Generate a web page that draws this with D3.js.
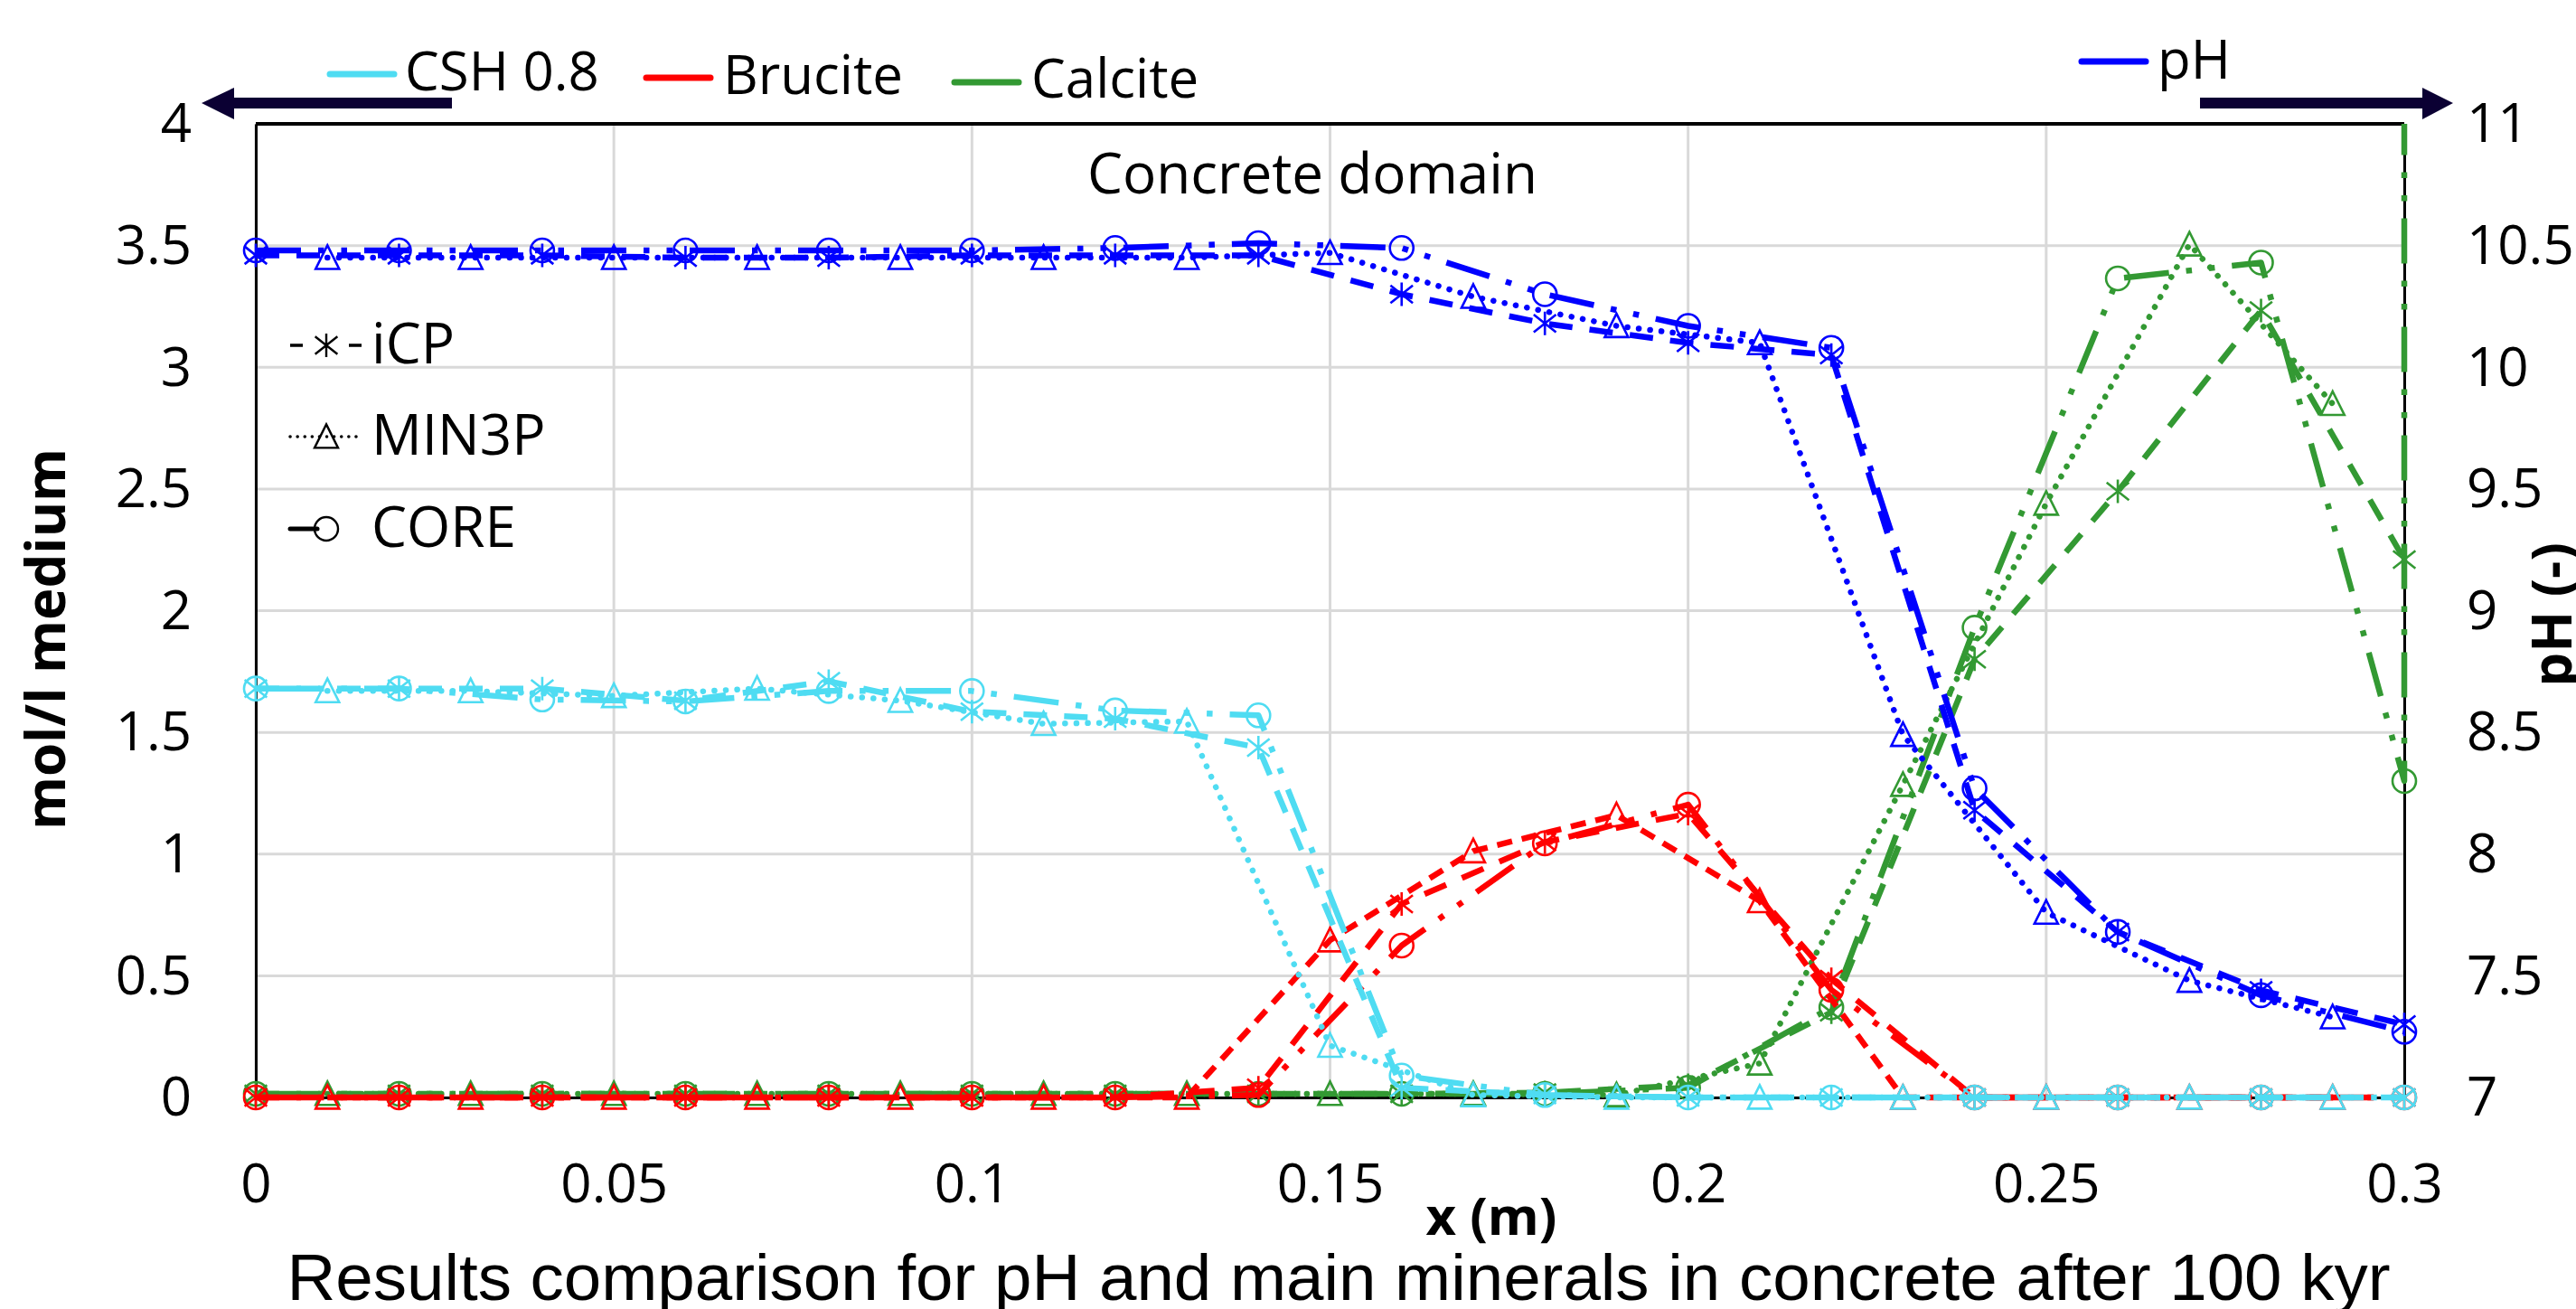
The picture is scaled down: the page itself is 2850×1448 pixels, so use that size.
<!DOCTYPE html>
<html><head><meta charset="utf-8">
<script src="https://cdn.jsdelivr.net/npm/d3@7"></script>
<style>
html,body{margin:0;padding:0;background:#fff;}
svg{display:block;}
text{fill:#000;}
</style>
</head><body>
<script>
// ---------------- DATA ----------------
const xEven = [0,0.02,0.04,0.06,0.08,0.10,0.12,0.14,0.16,0.18,0.20,0.22,0.24,0.26,0.28,0.30];
const xOdd  = [0.01,0.03,0.05,0.07,0.09,0.11,0.13,0.15,0.17,0.19,0.21,0.23,0.25,0.27,0.29];
const xCoreCalcite = [0,0.02,0.04,0.06,0.08,0.10,0.12,0.14,0.16,0.18,0.20,0.22,0.24,0.26,0.28,0.30,0.30];

// pH (right axis)
const phICP   = [10.46,10.46,10.46,10.45,10.45,10.46,10.46,10.46,10.30,10.18,10.10,10.05,8.18,7.68,7.44,7.30];
const phMIN3P = [10.45,10.45,10.45,10.45,10.45,10.45,10.45,10.47,10.29,10.17,10.10,8.49,7.76,7.48,7.33];
const phCORE  = [10.48,10.48,10.48,10.48,10.48,10.48,10.49,10.51,10.49,10.30,10.17,10.08,8.27,7.68,7.42,7.27];

// CSH 0.8 (left axis, mol/l medium)
const cshICP   = [1.68,1.68,1.68,1.63,1.71,1.585,1.556,1.437,0.04,0.01,0,0,0,0,0,0];
const cshMIN3P = [1.67,1.67,1.65,1.68,1.63,1.535,1.545,0.213,0.01,0,0,0,0,0,0];
const cshCORE  = [1.68,1.68,1.635,1.627,1.67,1.67,1.59,1.57,0.09,0.01,0,0,0,0,0,0];

// Brucite
const bruICP   = [0,0,0,0,0,0,0,0.04,0.795,1.049,1.166,0.486,0,0,0,0];
const bruMIN3P = [0,0,0,0,0,0,0,0.646,1.012,1.16,0.807,0,0,0,0];
const bruCORE  = [0,0,0,0,0,0,0,0.01,0.624,1.044,1.203,0.442,0,0,0,0];

// Calcite
const calICP   = [0.015,0.015,0.015,0.015,0.015,0.015,0.015,0.015,0.015,0.02,0.05,0.35,1.80,2.49,3.233,2.21];
const calMIN3P = [0.015,0.015,0.015,0.015,0.015,0.015,0.015,0.015,0.015,0.01,0.14,1.285,2.44,3.505,2.85];
const calCORE  = [0.015,0.015,0.015,0.015,0.015,0.015,0.015,0.015,0.015,0.015,0.04,0.37,1.93,3.365,3.43,1.30,12];

// Axis ticks / labels
const xTicks = [0,0.05,0.1,0.15,0.2,0.25,0.3];
const xTickLabels = ["0","0.05","0.1","0.15","0.2","0.25","0.3"];
const yLeftTicks = [0,0.5,1,1.5,2,2.5,3,3.5,4];
const yLeftLabels = ["0","0.5","1","1.5","2","2.5","3","3.5","4"];
const yRightTicks = [7,7.5,8,8.5,9,9.5,10,10.5,11];
const yRightLabels = ["7","7.5","8","8.5","9","9.5","10","10.5","11"];

const mineralNames = ["CSH 0.8","Brucite","Calcite","pH"];
const methodNames = ["iCP","MIN3P","CORE"];
const annotationText = "Concrete domain";
const xTitle = "x (m)";
const yLeftTitle = "mol/l medium";
const yRightTitle = "pH (-)";
const captionText = "Results comparison for pH and main minerals in concrete after 100 kyr";

// ---------------- STYLE / LAYOUT ----------------
const W = 2850, H = 1448;
const P = {left:283, right:2660, top:137, bottom:1214};
const COL = {csh:"#4FDCF2", bru:"#FF0000", cal:"#339933", ph:"#0000FF", arrow:"#0B0033", grid:"#D9D9D9"};
const LW = 6.5;
const FONT = "'Open Sans', sans-serif";
const methodStyle = {
  iCP:   {dash:"26,19", cap:"butt", marker:"star"},
  MIN3P: {dash:"0.1,12.5", cap:"round", marker:"triangle"},
  CORE:  {dash:"50,19,6.5,19,6.5,19", cap:"butt", marker:"circle"}
};

const svg = d3.select("body").append("svg").attr("width",W).attr("height",H)
  .style("font-family",FONT);

const x = d3.scaleLinear().domain([0,0.3]).range([P.left,P.right]);
const yL = d3.scaleLinear().domain([0,4]).range([P.bottom,P.top]);
const yR = d3.scaleLinear().domain([7,11]).range([P.bottom,P.top]);

svg.append("defs").append("clipPath").attr("id","plotclip")
  .append("rect").attr("x",P.left-30).attr("y",P.top).attr("width",P.right-P.left+60).attr("height",P.bottom-P.top+40);

// gridlines
const grid = svg.append("g");
grid.selectAll(".gx").data(xTicks).join("line")
  .attr("x1",d=>x(d)).attr("x2",d=>x(d)).attr("y1",P.top).attr("y2",P.bottom)
  .attr("stroke",COL.grid).attr("stroke-width",3);
grid.selectAll(".gy").data(yLeftTicks).join("line")
  .attr("x1",P.left).attr("x2",P.right).attr("y1",d=>yL(d)).attr("y2",d=>yL(d))
  .attr("stroke",COL.grid).attr("stroke-width",3);

// axes
const fs = 60;
function styleAxisText(sel){
  sel.selectAll("text").attr("font-size",fs).attr("font-family",null).style("font-family",FONT).attr("fill","#000");
}
const gx = svg.append("g").attr("transform",`translate(0,${P.bottom})`)
  .call(d3.axisBottom(x).tickValues(xTicks).tickFormat((d,i)=>xTickLabels[i]).tickSize(0));
gx.attr("font-family",null).attr("font-size",null);
gx.select(".domain").attr("stroke","#000").attr("stroke-width",3);
gx.selectAll("text").attr("y",116).attr("dy",null);
styleAxisText(gx);

const gl = svg.append("g").attr("transform",`translate(${P.left},0)`)
  .call(d3.axisLeft(yL).tickValues(yLeftTicks).tickFormat((d,i)=>yLeftLabels[i]).tickSize(0));
gl.attr("font-family",null).attr("font-size",null);
gl.select(".domain").attr("stroke","#000").attr("stroke-width",3);
gl.selectAll("text").attr("x",-71).attr("dy","0.33em");
styleAxisText(gl);

const gr = svg.append("g").attr("transform",`translate(${P.right},0)`)
  .call(d3.axisRight(yR).tickValues(yRightTicks).tickFormat((d,i)=>yRightLabels[i]).tickSize(0));
gr.attr("font-family",null).attr("font-size",null);
gr.select(".domain").attr("stroke","#000").attr("stroke-width",3);
gr.selectAll("text").attr("x",69).attr("dy","0.33em");
styleAxisText(gr);

// top border
svg.append("line").attr("x1",P.left).attr("x2",P.right).attr("y1",P.top).attr("y2",P.top)
  .attr("stroke","#000").attr("stroke-width",4);

// marker paths
function markerPath(type, r){
  if(type==="circle"){
    return `M${-r},0A${r},${r} 0 1,0 ${r},0A${r},${r} 0 1,0 ${-r},0Z`;
  } else if(type==="triangle"){
    return `M0,${-r*1.05}L${r},${r*0.95}L${-r},${r*0.95}Z`;
  } else {
    const a=r*0.95, b=r*0.75;
    return `M0,${-r}L0,${r}M${-a},${-b}L${a},${b}M${-a},${b}L${a},${-b}`;
  }
}

const plotG = svg.append("g").attr("clip-path","url(#plotclip)");

function drawSeries(xs, ys, yScale, color, method, dashOverride){
  const st = methodStyle[method];
  const pts = xs.map((d,i)=>[d, ys[i]]);
  const line = d3.line().x(d=>x(d[0])).y(d=>yScale(d[1]));
  const g = plotG.append("g");
  g.append("path").attr("d",line(pts)).attr("fill","none").attr("stroke",color)
    .attr("stroke-width",LW).attr("stroke-dasharray",dashOverride ? dashOverride.dash : st.dash)
    .attr("stroke-linecap",dashOverride ? dashOverride.cap : st.cap)
    .attr("stroke-linejoin","round");
  g.selectAll(".m").data(pts.filter(d=>yScale.domain()[0]<=d[1] && d[1]<=yScale.domain()[1])).join("path")
    .attr("transform",d=>`translate(${x(d[0])},${yScale(d[1])})`)
    .attr("d",markerPath(st.marker,13))
    .attr("fill","none").attr("stroke",color).attr("stroke-width",2.6);
}

// order: calcite, brucite, CSH, pH
drawSeries(xEven, calICP, yL, COL.cal, "iCP");
drawSeries(xOdd, calMIN3P, yL, COL.cal, "MIN3P");
drawSeries(xCoreCalcite, calCORE, yL, COL.cal, "CORE");
drawSeries(xEven, bruICP, yL, COL.bru, "iCP");
drawSeries(xOdd, bruMIN3P, yL, COL.bru, "MIN3P", {dash:"17,11", cap:"butt"});
drawSeries(xEven, bruCORE, yL, COL.bru, "CORE");
drawSeries(xEven, cshICP, yL, COL.csh, "iCP");
drawSeries(xOdd, cshMIN3P, yL, COL.csh, "MIN3P");
drawSeries(xEven, cshCORE, yL, COL.csh, "CORE");
drawSeries(xEven, phICP, yR, COL.ph, "iCP");
drawSeries(xOdd, phMIN3P, yR, COL.ph, "MIN3P");
drawSeries(xEven, phCORE, yR, COL.ph, "CORE");

// annotation text
svg.append("text").attr("x",1452).attr("y",214).attr("text-anchor","middle")
  .attr("font-size",62).text(annotationText);

// method legend (black)
const methodLegendY = [382,483,585];
const mlg = svg.append("g");
methodNames.forEach((m,i)=>{
  const st = methodStyle[m];
  const y0 = methodLegendY[i];
  const sampleX = m==="MIN3P" ? [321,398] : (m==="CORE" ? [321,392] : [321,400]);
  let dash = st.dash;
  if(m==="iCP") dash = "14,25,0,26,14";
  if(m==="MIN3P") dash = "0.1,8";
  if(m==="CORE") dash = "30,52,0.1,40";
  mlg.append("line").attr("x1",sampleX[0]).attr("x2",sampleX[1]).attr("y1",y0).attr("y2",y0)
    .attr("stroke","#000").attr("stroke-width",m==="CORE"?5:3.5)
    .attr("stroke-dasharray",dash).attr("stroke-linecap",m==="iCP"?"butt":"round");
  mlg.append("path").attr("transform",`translate(361,${y0})`).attr("d",markerPath(st.marker,13))
    .attr("fill","none").attr("stroke","#000").attr("stroke-width",2.4);
  mlg.append("text").attr("x",411).attr("y",y0+20).attr("font-size",62).text(m);
});

// mineral legend (top)
const legendItems = [
  {name:mineralNames[0], color:COL.csh, lx:[362,439], ly:82, tx:448, ty:100},
  {name:mineralNames[1], color:COL.bru, lx:[712,789], ly:86, tx:800, ty:104},
  {name:mineralNames[2], color:COL.cal, lx:[1053,1130], ly:91, tx:1141, ty:108},
  {name:mineralNames[3], color:COL.ph, lx:[2300,2377], ly:68, tx:2387, ty:87}
];
const lg = svg.append("g");
legendItems.forEach(d=>{
  lg.append("line").attr("x1",d.lx[0]+3).attr("x2",d.lx[1]-3).attr("y1",d.ly).attr("y2",d.ly)
    .attr("stroke",d.color).attr("stroke-width",7).attr("stroke-linecap","round");
  lg.append("text").attr("x",d.tx).attr("y",d.ty).attr("font-size",60).text(d.name);
});

// axis arrows
const arrowG = svg.append("g").attr("fill",COL.arrow);
arrowG.append("path").attr("d","M223,114 L259,97 L259,108 L500,108 L500,120 L259,120 L259,132 Z");
arrowG.append("path").attr("d","M2714,114 L2680,97 L2680,108 L2434,108 L2434,120 L2680,120 L2680,132 Z");

// axis titles
svg.append("text").attr("transform","translate(72,707) rotate(-90)").attr("text-anchor","middle")
  .attr("font-size",60).attr("font-weight","bold").text(yLeftTitle);
svg.append("text").attr("transform","translate(2845,680) rotate(-90)").attr("text-anchor","middle")
  .attr("font-size",60).attr("font-weight","bold").text(yRightTitle);
svg.append("text").attr("x",1650).attr("y",1366).attr("text-anchor","middle")
  .attr("font-size",58).attr("font-weight","bold").text(xTitle);

// caption
svg.append("text").attr("x",1481).attr("y",1438).attr("text-anchor","middle")
  .style("font-family","'Liberation Sans', Arial, sans-serif").attr("font-size",72)
  .attr("textLength",2327).attr("lengthAdjust","spacingAndGlyphs").text(captionText);
</script>
</body></html>
